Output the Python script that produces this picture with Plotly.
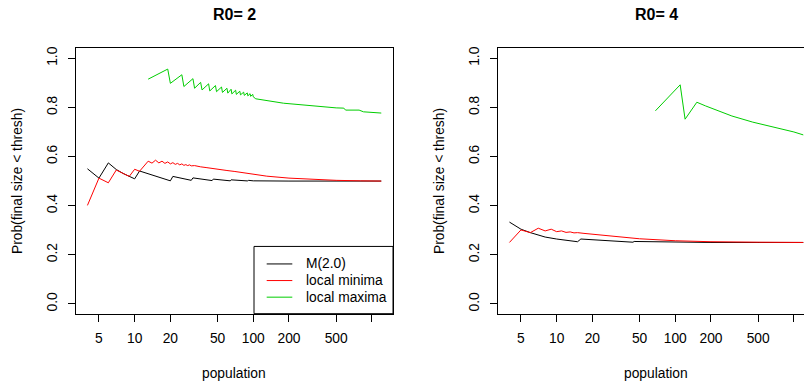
import numpy as np
import plotly.graph_objects as go

# ---------------- data ----------------
# Left panel: R0 = 2
left_M_x = [4, 5, 6, 7, 8, 9, 10, 11, 12, 14, 16, 18, 20, 21, 25, 30, 31, 38, 45, 46,
            55, 64, 65, 78, 90, 91, 100, 200, 500, 1200]
left_M_y = [0.550, 0.512, 0.574, 0.547, 0.531, 0.519, 0.509, 0.541, 0.535, 0.524, 0.515,
            0.507, 0.501, 0.519, 0.511, 0.503, 0.513, 0.507, 0.502, 0.508,
            0.504, 0.501, 0.505, 0.502, 0.5005, 0.503, 0.501, 0.500, 0.500, 0.500]

left_min_x = [4, 5, 6, 7, 8, 9, 10, 11, 13, 14, 15, 16, 17, 18, 19, 20, 21, 22, 23, 24,
              25, 26, 27, 28, 29, 30, 32, 34, 36, 40, 45, 50, 60, 70, 100, 130, 200,
              300, 500, 800, 1200]
left_min_y = [0.401, 0.512, 0.493, 0.545, 0.531, 0.519, 0.548, 0.540, 0.581, 0.573, 0.585,
              0.574, 0.581, 0.572, 0.578, 0.570, 0.575, 0.568, 0.572, 0.566,
              0.570, 0.564, 0.567, 0.563, 0.566, 0.562, 0.563, 0.559, 0.558, 0.555,
              0.551, 0.548, 0.543, 0.539, 0.528, 0.520, 0.512, 0.507, 0.503, 0.501, 0.500]

left_max_x = [13, 19, 20, 25, 26, 31, 32, 36, 37, 42, 43, 48, 49, 54, 55, 60, 61, 65, 66,
              71, 72, 77, 78, 83, 84, 89, 90, 94, 95, 99, 100, 105, 180, 340, 500, 580,
              600, 780, 850, 1200]
left_max_y = [0.915, 0.956, 0.898, 0.933, 0.885, 0.917, 0.878, 0.902, 0.871, 0.896, 0.867,
              0.889, 0.864, 0.883, 0.861, 0.878, 0.858, 0.874, 0.855,
              0.870, 0.853, 0.866, 0.851, 0.862, 0.849, 0.859, 0.847, 0.856, 0.845,
              0.853, 0.843, 0.835, 0.817, 0.804, 0.798, 0.797, 0.789, 0.789, 0.782, 0.777]

# Right panel: R0 = 4
right_M_x = [4, 5, 6, 7, 8, 10, 12, 15, 16, 20, 30, 44, 45, 60, 100, 200, 1200]
right_M_y = [0.333, 0.304, 0.290, 0.280, 0.272, 0.264, 0.259, 0.253, 0.264, 0.261, 0.256,
             0.251, 0.254, 0.253, 0.251, 0.250, 0.250]

right_min_x = [4, 5, 6, 7, 8, 9, 10, 11, 12, 13, 14, 15, 17, 20, 30, 50, 100, 200, 500, 1200]
right_min_y = [0.250, 0.301, 0.290, 0.308, 0.297, 0.304, 0.294, 0.297, 0.291, 0.293, 0.289,
               0.290, 0.287, 0.284, 0.275, 0.265, 0.257, 0.253, 0.251, 0.250]

right_max_x = [68, 110, 121, 152, 180, 236, 300, 450, 600, 862, 1000, 1200]
right_max_y = [0.786, 0.892, 0.752, 0.821, 0.806, 0.784, 0.765, 0.740, 0.726, 0.709,
               0.700, 0.688]

x_tickvals = [5, 10, 20, 50, 100, 200, 500, 1000]
x_ticktext = ["5", "10", "20", "50", "100", "200", "500", ""]
y_tickvals = [0.0, 0.2, 0.4, 0.6, 0.8, 1.0]
y_ticktext = ["0.0", "0.2", "0.4", "0.6", "0.8", "1.0"]

series_names = ["M(2.0)", "local minima", "local maxima"]
series_colors = ["#000000", "#FF0000", "#00CD00"]
panel_titles = ["R0= 2", "R0= 4"]

# ---------------- figure ----------------
W, H = 804, 387
FONT = "Liberation Sans, Arial, Helvetica, sans-serif"
FS = 13.8


def px_x(p):
    return p / W


def px_y(p):
    return 1 - p / H


fig = go.Figure()

panels = [
    ("x", "y", [(left_M_x, left_M_y), (left_min_x, left_min_y), (left_max_x, left_max_y)]),
    ("x2", "y2", [(right_M_x, right_M_y), (right_min_x, right_min_y), (right_max_x, right_max_y)]),
]
for xa, ya, series in panels:
    for (xs, ys), name, col in zip(series, series_names, series_colors):
        fig.add_trace(go.Scatter(x=xs, y=ys, mode="lines", name=name, xaxis=xa, yaxis=ya,
                                 line=dict(color=col, width=1), showlegend=False,
                                 hoverinfo="skip"))

# geometry (pixels)
L_left, L_right = 75.7, 393.0
R_left = 497.7
top_px, bot_px = 46.7, 313.3
xlo, xhi = 0.503, 3.178
px_per_dec = (L_right - L_left) / (xhi - xlo)
xhi_right = xlo + (W - R_left) / px_per_dec

ydom = [px_y(bot_px), px_y(top_px)]

common_x = dict(type="log", tickvals=x_tickvals, ticktext=x_ticktext, ticks="outside",
                ticklen=7, tickwidth=1, tickcolor="black", showline=True, linecolor="black",
                linewidth=1, showgrid=False, zeroline=False,
                tickfont=dict(family=FONT, size=FS, color="black"), ticklabelstandoff=5)
common_y = dict(range=[-0.04, 1.04], tickvals=y_tickvals, ticktext=y_ticktext,
                ticks="outside", ticklen=7, tickwidth=1, tickcolor="black", showline=True,
                linecolor="black", linewidth=1, showgrid=False, zeroline=False,
                tickangle=-90, tickfont=dict(family=FONT, size=FS, color="black"),
                ticklabelstandoff=5, domain=ydom)

fig.update_layout(
    width=W, height=H, margin=dict(l=0, r=0, t=0, b=0),
    paper_bgcolor="white", plot_bgcolor="white", showlegend=False,
    xaxis=dict(common_x, domain=[px_x(L_left), px_x(L_right)], range=[xlo, xhi],
               mirror=True, anchor="y"),
    yaxis=dict(common_y, mirror=True, anchor="x"),
    xaxis2=dict(common_x, domain=[px_x(R_left), 1.0], range=[xlo, xhi_right],
                mirror=True, anchor="y2"),
    yaxis2=dict(common_y, mirror=False, anchor="x2"),
)

annotations = []
centers = [(L_left + L_right) / 2, R_left + (L_right - L_left) / 2]
ylab_x = [17, 439]
for c, t, yl in zip(centers, panel_titles, ylab_x):
    annotations.append(dict(text="<b>%s</b>" % t, x=px_x(c), y=px_y(13), xref="paper",
                            yref="paper", xanchor="center", yanchor="middle",
                            showarrow=False, font=dict(family=FONT, size=16, color="black")))
    annotations.append(dict(text="population", x=px_x(c), y=px_y(373), xref="paper",
                            yref="paper", xanchor="center", yanchor="middle",
                            showarrow=False, font=dict(family=FONT, size=FS, color="black")))
    annotations.append(dict(text="Prob(final size < thresh)", x=px_x(yl),
                            y=px_y((top_px + bot_px) / 2), xref="paper", yref="paper",
                            xanchor="center", yanchor="middle", textangle=-90,
                            showarrow=False, font=dict(family=FONT, size=FS, color="black")))

# legend (bottom-right of left panel)
shapes = [dict(type="rect", xref="paper", yref="paper", x0=px_x(254), x1=px_x(L_right),
               y0=px_y(bot_px), y1=px_y(245.7), line=dict(color="black", width=1),
               fillcolor="white", layer="below")]
rows = [263.3, 280.0, 296.7]
for name, col, ry in zip(series_names, series_colors, rows):
    shapes.append(dict(type="line", xref="paper", yref="paper", x0=px_x(266.7),
                       x1=px_x(292.3), y0=px_y(ry), y1=px_y(ry),
                       line=dict(color=col, width=1)))
    annotations.append(dict(text=name, x=px_x(304), y=px_y(ry), xref="paper", yref="paper",
                            xanchor="left", yanchor="middle", showarrow=False,
                            font=dict(family=FONT, size=FS, color="black")))

fig.update_layout(annotations=annotations, shapes=shapes)
fig.write_html("out.html")
